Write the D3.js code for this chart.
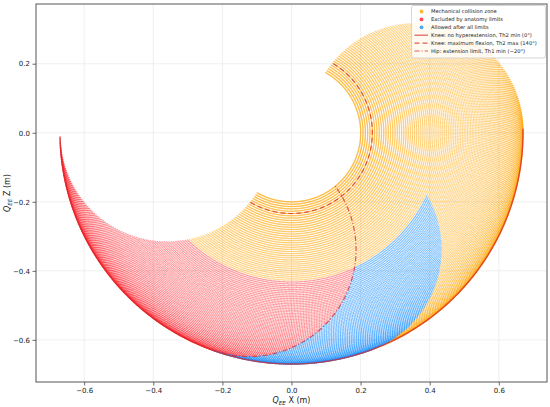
<!DOCTYPE html>
<html><head><meta charset="utf-8">
<script src="https://cdn.jsdelivr.net/npm/d3@7"></script>
<style>
body{margin:0;background:#fff}
svg{display:block;font-family:"DejaVu Sans",sans-serif}
</style></head>
<body><svg id="chart" width="550" height="407"></svg>
<script>
// ---- values ----
const xTicks = [-0.6, -0.4, -0.2, 0.0, 0.2, 0.4, 0.6];
const zTicks = [-0.6, -0.4, -0.2, 0.0, 0.2];
const xDomain = [-0.7395, 0.7395];
const zDomain = [-0.722, 0.373];
const linkLengths = [0.36, 0.31];        // thigh, shank (m)
const hipSweep = [-89, 91, 0.5];         // Th1 start, end, step (deg)
const kneeSweep = [0, 147, 1.25];        // Th2 start, end, step (deg)
const hipLimits = [-20, 20];             // Th1 anatomical min, mechanical max (deg)
const kneeLimits = [0, 140];             // Th2 min / max (deg)
const collisionKnee = [100];             // Th2 above which the links collide (deg)
const seriesNames = ["Mechanical collision zone", "Excluded by anatomy limits", "Allowed after all limits"];
const seriesColors = ["#ffa500", "#ff1f2a", "#1e90ff"];
const seriesOpacity = [0.48, 0.47, 0.58];
const lineNames = ["Knee: no hyperextension, Th2 min (0°)", "Knee: maximum flexion, Th2 max (140°)", "Hip: extension limit, Th1 min (\u221220°)"];
const lineDash = ["none", "5,3", "5,2,1.2,2"];
const lineColor = "#d62728";

// ---- kinematics ----
const rad = Math.PI / 180;
function ee(t1, t2) {
  const a = t1 * rad, b = (t1 + t2) * rad;
  return [linkLengths[0] * Math.sin(a) + linkLengths[1] * Math.sin(b),
          -linkLengths[0] * Math.cos(a) - linkLengths[1] * Math.cos(b)];
}
function category(t1, t2) {
  if (t2 > collisionKnee[0] || t1 > hipLimits[1]) return 0;
  if (t1 < hipLimits[0] || t2 > kneeLimits[1]) return 1;
  return 2;
}
const hipAngles = d3.range(hipSweep[0], hipSweep[1] + 1e-9, hipSweep[2]);
const kneeAngles = d3.range(kneeSweep[0], kneeSweep[1] + 1e-9, kneeSweep[2]);
const pts = [];
hipAngles.forEach(t1 => kneeAngles.forEach(t2 => {
  const p = ee(t1, t2); pts.push({x: p[0], z: p[1], c: category(t1, t2)});
}));

// ---- chart ----
const svg = d3.select("#chart");
const x = d3.scaleLinear().domain(xDomain).range([36, 547]);
const y = d3.scaleLinear().domain(zDomain).range([382, 4]);
const fmt = v => d3.format(".1f")(v).replace("-", "\u2212");

// grid
const grid = svg.append("g").attr("stroke", "#ebebeb").attr("stroke-width", 0.8);
grid.selectAll("line.vx").data(xTicks).join("line")
  .attr("x1", d => x(d)).attr("x2", d => x(d)).attr("y1", 4).attr("y2", 382);
grid.selectAll("line.hz").data(zTicks).join("line")
  .attr("y1", d => y(d)).attr("y2", d => y(d)).attr("x1", 36).attr("x2", 547);

// points
[0, 1, 2].forEach(c => {
  svg.append("g").attr("fill", seriesColors[c]).attr("fill-opacity", seriesOpacity[c])
    .selectAll("circle").data(pts.filter(p => p.c === c)).join("circle")
    .attr("cx", d => x(d.x)).attr("cy", d => y(d.z)).attr("r", 0.75);
});

// limit lines
const lineGen = d3.line().x(d => x(d[0])).y(d => y(d[1]));
const fineHip = d3.range(hipSweep[0], hipSweep[1] + 1e-9, 0.5);
const fineKnee = d3.range(kneeSweep[0], kneeSweep[1] + 1e-9, 0.5);
const limitLines = [
  fineHip.map(t1 => ee(t1, kneeLimits[0])),
  fineHip.map(t1 => ee(t1, kneeLimits[1])),
  fineKnee.map(t2 => ee(hipLimits[0], t2))
];
limitLines.forEach((L, i) => {
  svg.append("path").attr("d", lineGen(L)).attr("fill", "none")
    .attr("stroke", lineColor).attr("stroke-opacity", 0.75)
    .attr("stroke-width", i === 0 ? 1.4 : 1.2)
    .attr("stroke-dasharray", lineDash[i]);
});

// axes
const xAxis = d3.axisBottom(x).tickValues(xTicks).tickFormat(fmt).tickSize(3.5).tickPadding(2.5);
const yAxis = d3.axisLeft(y).tickValues(zTicks).tickFormat(fmt).tickSize(3.5).tickPadding(2.5);
const gx = svg.append("g").attr("transform", "translate(0,382)").call(xAxis);
const gy = svg.append("g").attr("transform", "translate(36,0)").call(yAxis);
[gx, gy].forEach(g => {
  g.select(".domain").remove();
  g.selectAll("line").attr("stroke", "#444").attr("stroke-width", 0.8);
  g.selectAll("text").attr("fill", "#222").style("font-size", "7px").style("font-family", "DejaVu Sans");
});
svg.append("rect").attr("x", 36).attr("y", 4).attr("width", 511).attr("height", 378)
  .attr("fill", "none").attr("stroke", "#555").attr("stroke-width", 1);

// axis labels
function axisLabel(t, tx, ty, rot, letter) {
  const g = t.append("text").attr("transform", `translate(${tx},${ty}) rotate(${rot})`)
    .attr("text-anchor", "middle").style("font-size", "8px").attr("fill", "#222");
  g.append("tspan").text("Q").style("font-style", "italic");
  g.append("tspan").text("EE").style("font-style", "italic").style("font-size", "5.6px").attr("dy", 1.8);
  g.append("tspan").text(` ${letter} (m)`).attr("dy", -1.8);
}
axisLabel(svg, 291.5, 403, 0, "X");
axisLabel(svg, 10, 193, -90, "Z");

// legend
const lg = svg.append("g");
lg.append("rect").attr("x", 411.5).attr("y", 5.5).attr("width", 134).attr("height", 52.5).attr("rx", 2)
  .attr("fill", "#fff").attr("fill-opacity", 0.8).attr("stroke", "#cccccc").attr("stroke-width", 0.8);
const rowY = i => 11.5 + i * 7.9;
seriesNames.forEach((n, i) => {
  lg.append("circle").attr("cx", 421.5).attr("cy", rowY(i)).attr("r", 1.9)
    .attr("fill", seriesColors[i]).attr("fill-opacity", 0.8);
  lg.append("text").attr("x", 431).attr("y", rowY(i)).attr("dy", "0.35em").text(n)
    .style("font-size", "5.2px").attr("fill", "#222");
});
lineNames.forEach((n, j) => {
  const i = j + 3;
  lg.append("line").attr("x1", 414.5).attr("x2", 428).attr("y1", rowY(i)).attr("y2", rowY(i))
    .attr("stroke", lineColor).attr("stroke-opacity", 0.75).attr("stroke-width", 1.2)
    .attr("stroke-dasharray", lineDash[j]);
  lg.append("text").attr("x", 431).attr("y", rowY(i)).attr("dy", "0.35em").text(n)
    .style("font-size", "5.2px").attr("fill", "#222");
});
</script></body></html>
